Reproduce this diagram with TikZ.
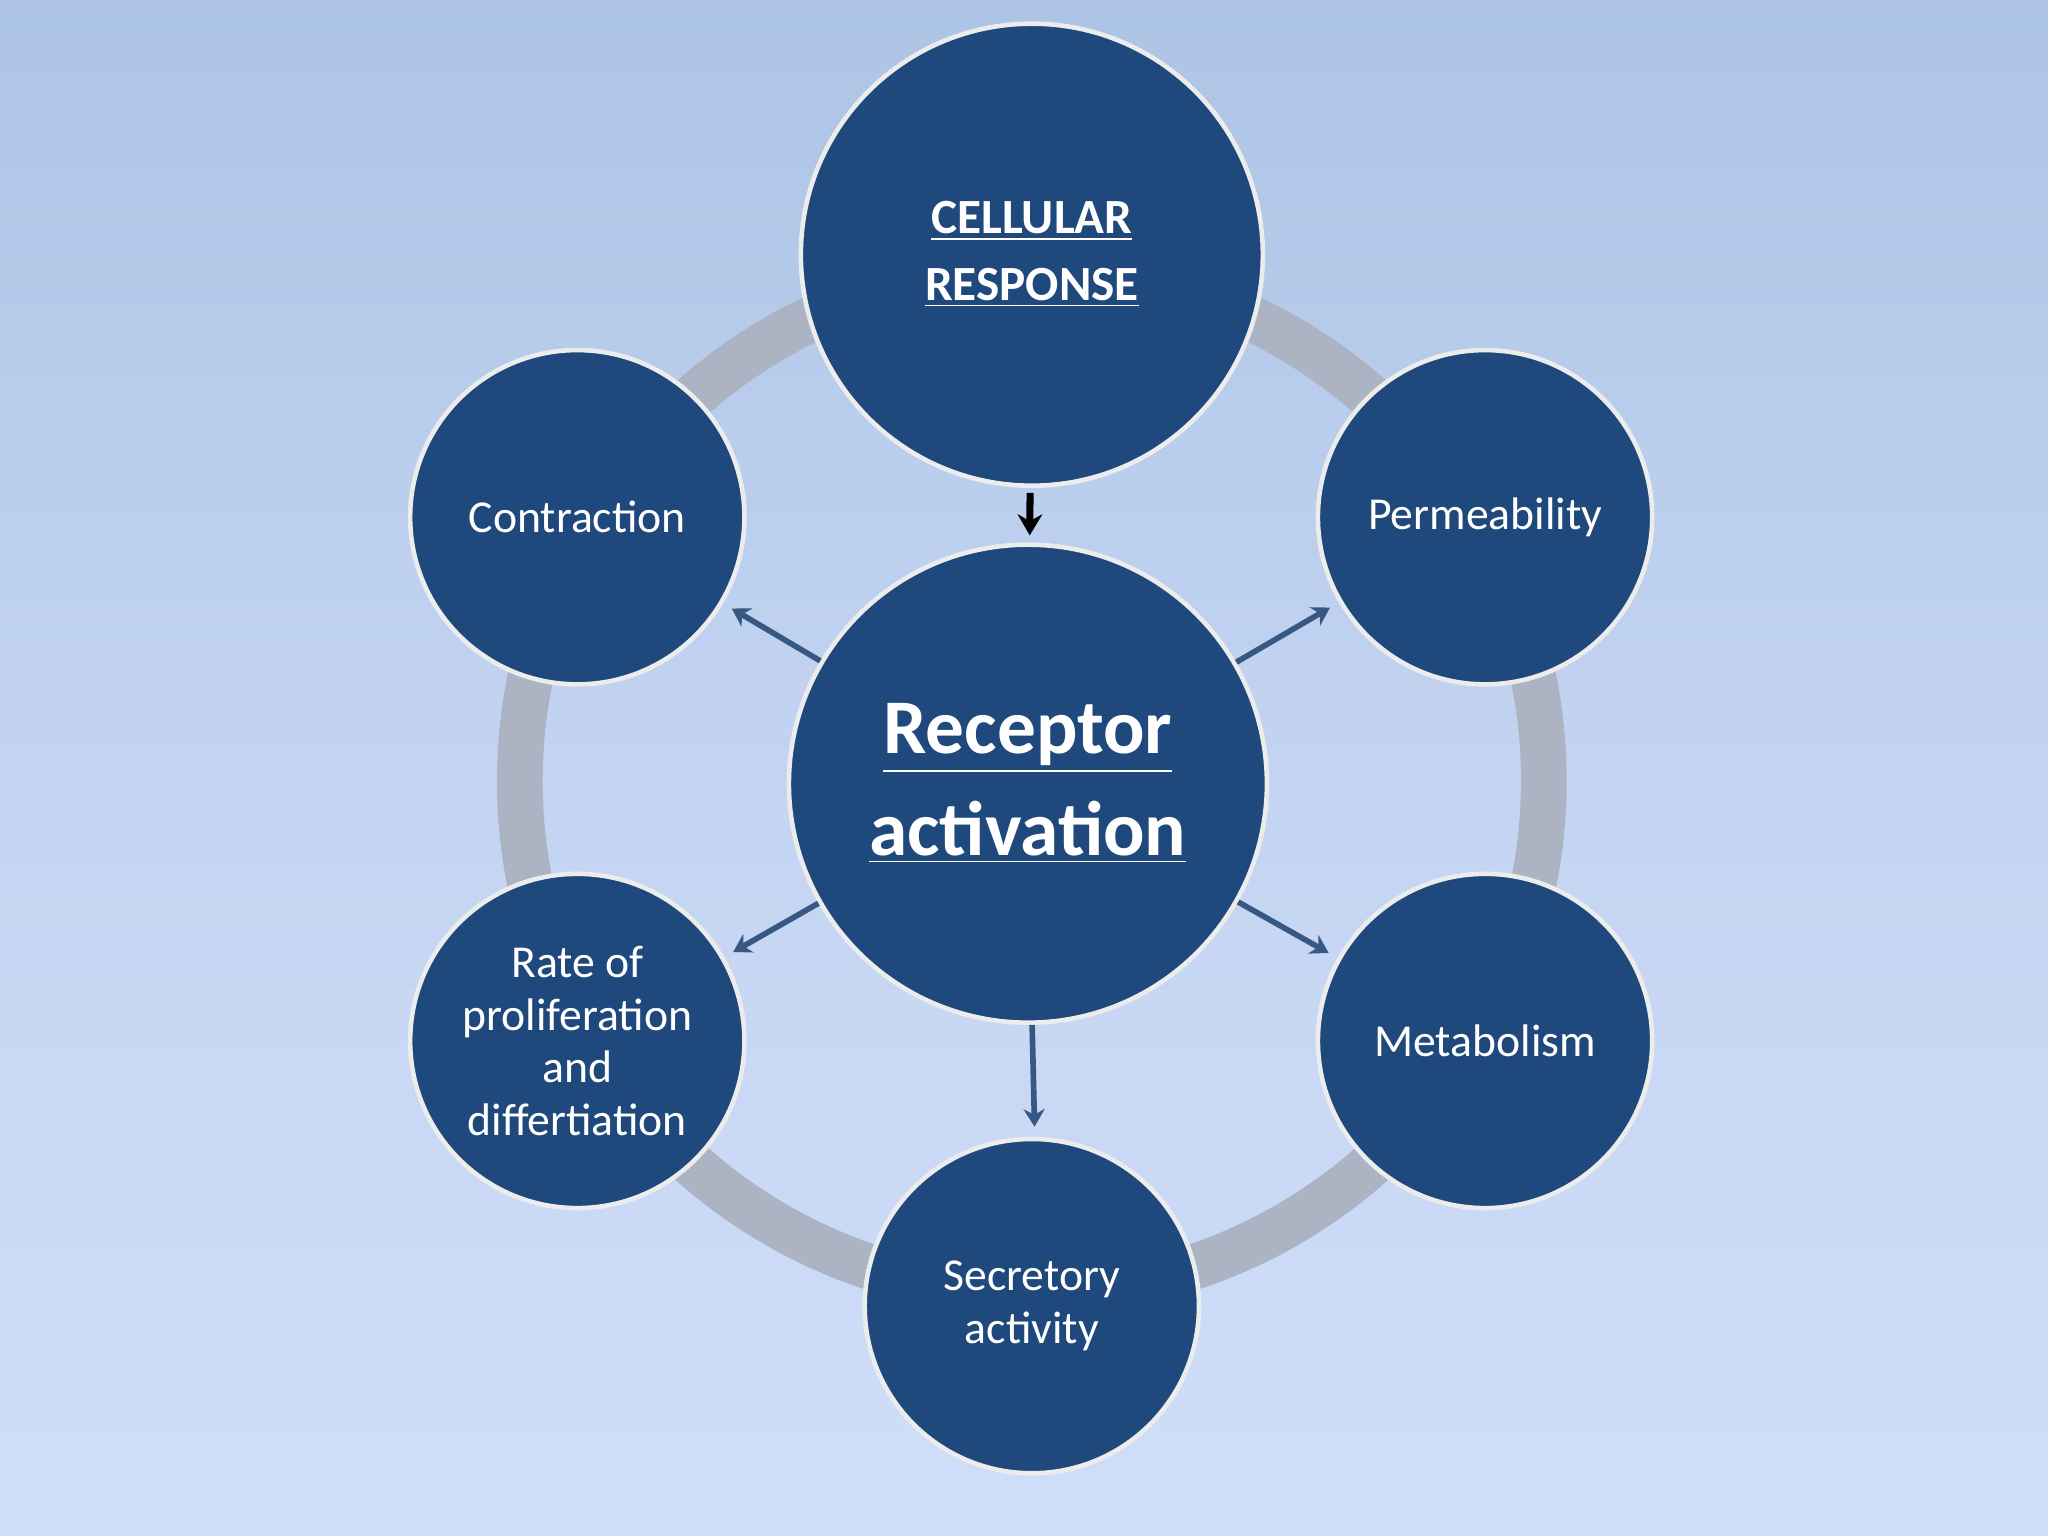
\documentclass[tikz,border=0pt]{standalone}
\usepackage{fontspec}
\setmainfont{Carlito}
\usetikzlibrary{arrows.meta}
\definecolor{bgtop}{RGB}{150,180,215}
\definecolor{bgmid}{RGB}{195,212,242}
\definecolor{bglow}{RGB}{212,226,252}
\definecolor{bgfog}{RGB}{190,205,205}
\definecolor{bgbot}{RGB}{140,165,140}
\definecolor{navy}{RGB}{31,73,125}
\definecolor{ringc}{RGB}{172,180,196}
\definecolor{arrc}{RGB}{55,88,130}
\pgfdeclareverticalshading{bg}{100bp}{color(0bp)=(bgbot); color(7bp)=(bgfog); color(15bp)=(bglow); color(50bp)=(bgmid); color(100bp)=(bgtop)}
\tikzset{
  circ/.style={circle, fill=navy, draw=white!85!gray, line width=1.3pt, text=white, align=center, inner sep=0pt},
  small/.style={circ, minimum size=3.343cm, font=\fontsize{13}{15}\selectfont},
  arr/.style={draw=arrc, line width=1.6pt, -{Stealth[length=5pt,width=6pt]}, shorten >=0.1cm},
}
\begin{document}
\begin{tikzpicture}[x=0.01306cm,y=-0.01306cm]
\useasboundingbox (0,0) rectangle (1568,1176);
\shade[shading=bg] (0,0) rectangle (1568,1176);
\draw[ringc, line width=0.457cm] (790,598) circle[radius=392];
\node[circ, minimum size=4.62cm, font=\bfseries\fontsize{14}{17}\selectfont] (top) at (790,195) {\underline{CELLULAR}\\[2pt]\underline{RESPONSE}};
\node[circ, minimum size=4.78cm, font=\bfseries\fontsize{22}{26}\selectfont] (c) at (787,600) {\underline{Receptor}\\[3pt]\underline{activation}};
\node[small] (con) at (442,396) {Contraction};
\node[small] (per) at (1137,396) {Permeability};
\node[small] (rate) at (442,797) {Rate of\\proliferation\\and\\differtiation};
\node[small] (met) at (1137,797) {Metabolism};
\node[small] (sec) at (790,1000) {Secretory\\activity};
\draw[black, line width=2pt, -{Stealth[length=6pt,width=7pt]}, shorten <=0.05cm, shorten >=0.07cm] (top) -- (c);
\draw[arr] (c) -- (con);
\draw[arr] (c) -- (per);
\draw[arr] (c) -- (rate);
\draw[arr] (c) -- (met);
\draw[arr] (c.-89) -- (sec.89);
\end{tikzpicture}
\end{document}
